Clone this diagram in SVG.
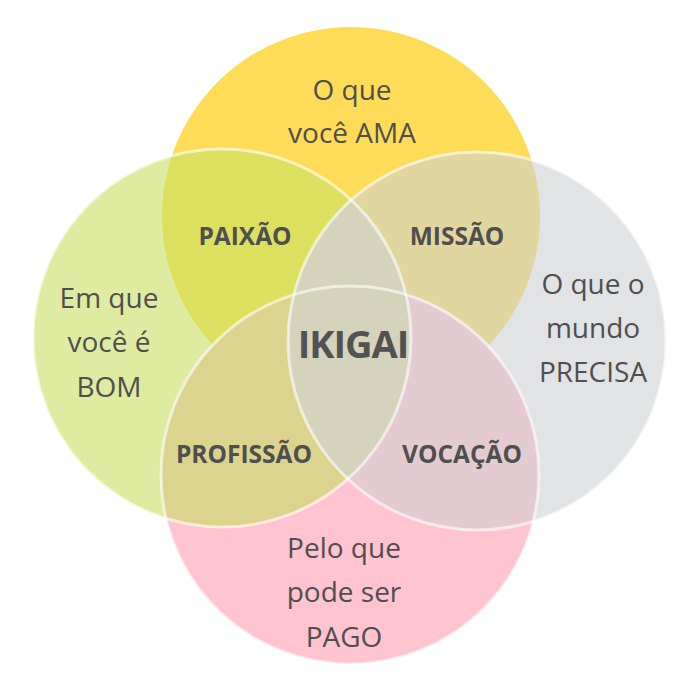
<svg xmlns="http://www.w3.org/2000/svg" width="700" height="691" viewBox="0 0 700 691">
<defs>
<clipPath id="cY"><circle cx="351" cy="216" r="189"/></clipPath>
<clipPath id="cG"><circle cx="222" cy="338" r="189"/></clipPath>
<clipPath id="cR"><circle cx="477" cy="341" r="189"/></clipPath>
<clipPath id="cP"><circle cx="350" cy="475" r="189"/></clipPath>
</defs>
<style>
.lbl{font-family:"Open Sans","Noto Sans",sans-serif;font-size:28px;font-weight:500;fill:#4f4f4f;text-anchor:middle}
.ov{font-family:"Open Sans","Noto Sans",sans-serif;font-size:24.5px;font-weight:bold;fill:#4f4f4f;text-anchor:middle}
.big{font-family:"Open Sans","Noto Sans",sans-serif;font-size:38px;font-weight:bold;fill:#525252;text-anchor:middle;letter-spacing:-1px}
.edge{fill:none;stroke:#ffffff;stroke-opacity:0.6;stroke-width:3}
</style>
<rect width="700" height="691" fill="#ffffff"/>
<g id="circles">
<g id="ama"><circle cx="351" cy="216" r="189" fill="#FFDC57"/></g>
<g id="bom"><circle cx="222" cy="338" r="189" fill="#DFEBA1"/></g>
<g id="precisa"><circle cx="477" cy="341" r="189" fill="#E2E3E5"/></g>
<g id="pago"><circle cx="350" cy="475" r="189" fill="#FFC4D0"/></g>
</g>
<g id="overlaps">
<g id="paixao-area" clip-path="url(#cY)"><circle cx="222" cy="338" r="189" fill="#DDE05F"/></g>
<g id="missao-area" clip-path="url(#cY)"><circle cx="477" cy="341" r="189" fill="#E2D6A0"/></g>
<g id="profissao-area" clip-path="url(#cP)"><circle cx="222" cy="338" r="189" fill="#DCD38E"/></g>
<g id="vocacao-area" clip-path="url(#cP)"><circle cx="477" cy="341" r="189" fill="#E4CBD2"/></g>
<g id="ikigai-area" clip-path="url(#cG)"><circle cx="477" cy="341" r="189" fill="#D5D3BB"/></g>
</g>
<g id="edges">
<circle class="edge" cx="222" cy="338" r="189"/>
<circle class="edge" cx="477" cy="341" r="189"/>
<circle class="edge" cx="350" cy="475" r="189"/>
</g>
<g id="texts">
<text class="lbl" x="352" y="100">O que</text>
<text class="lbl" x="352" y="143">você AMA</text>
<text class="lbl" x="109" y="308">Em que</text>
<text class="lbl" x="109" y="352">você é</text>
<text class="lbl" x="109" y="397">BOM</text>
<text class="lbl" x="593" y="294">O que o</text>
<text class="lbl" x="593" y="338">mundo</text>
<text class="lbl" x="593" y="382">PRECISA</text>
<text class="lbl" x="344" y="558">Pelo que</text>
<text class="lbl" x="344" y="602">pode ser</text>
<text class="lbl" x="344" y="647">PAGO</text>
<text class="ov" x="245" y="245">PAIXÃO</text>
<text class="ov" x="457" y="245">MISSÃO</text>
<text class="ov" x="244" y="463">PROFISSÃO</text>
<text class="ov" x="462" y="463">VOCAÇÃO</text>
<text class="big" x="353" y="358">IKIGAI</text>
</g>
</svg>
